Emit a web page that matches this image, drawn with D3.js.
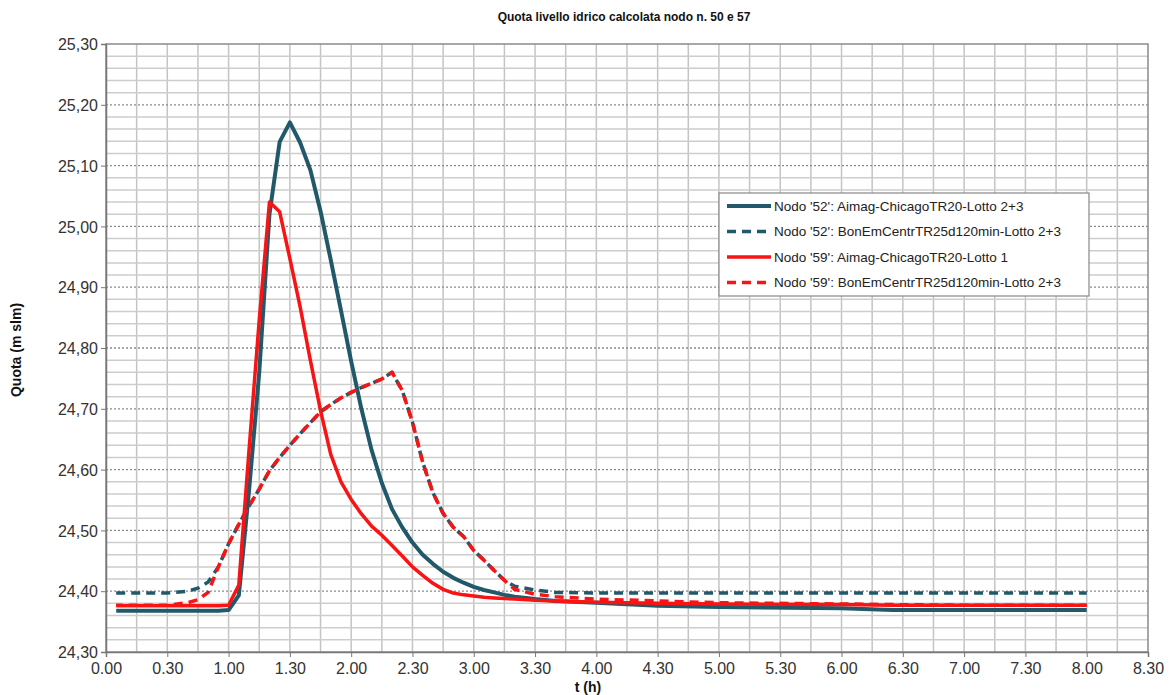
<!DOCTYPE html>
<html>
<head>
<meta charset="utf-8">
<script src="https://cdn.jsdelivr.net/npm/d3@7"></script>
<style>
  body { margin: 0; background: #fff; }
  svg { display: block; font-family: "Liberation Sans", Arial, sans-serif; }
  .tick text { fill: #333; font-size: 16px; }
</style>
</head>
<body>
<svg id="chart" width="1170" height="695"></svg>
<script>
// time in minutes from start
var times = [5, 30, 40, 45, 50, 55, 60, 65, 70, 75, 80, 85, 90, 95, 100, 105, 110, 115, 120, 125,
    130, 135, 140, 145, 150, 155, 160, 165, 170, 175, 180, 185, 190, 195, 200, 210, 220, 240,
    270, 300, 360, 385, 420, 480];

var nodo52Chicago = [24.368, 24.368, 24.368, 24.368, 24.368, 24.368, 24.369, 24.393, 24.565, 24.760,
    25.020, 25.139, 25.171, 25.138, 25.093, 25.025, 24.945, 24.862, 24.778, 24.700,
    24.632, 24.578, 24.535, 24.505, 24.480, 24.460, 24.445, 24.432, 24.422, 24.414,
    24.407, 24.402, 24.398, 24.394, 24.391, 24.387, 24.384, 24.381,
    24.376, 24.374, 24.372, 24.369, 24.369, 24.369];

var nodo52BonEm = [24.397, 24.397, 24.400, 24.405, 24.415, 24.440, 24.478, 24.510, 24.540, 24.568,
    24.598, 24.620, 24.640, 24.659, 24.677, 24.695, 24.707, 24.718, 24.727, 24.735,
    24.742, 24.749, 24.760, 24.730, 24.678, 24.612, 24.562, 24.528, 24.505, 24.490,
    24.467, 24.451, 24.434, 24.418, 24.408, 24.402, 24.398, 24.397,
    24.397, 24.397, 24.397, 24.397, 24.397, 24.397];

var nodo59Chicago = [24.376, 24.376, 24.376, 24.376, 24.376, 24.376, 24.377, 24.410, 24.632, 24.846,
    25.040, 25.024, 24.947, 24.868, 24.780, 24.697, 24.625, 24.580, 24.551, 24.527,
    24.507, 24.492, 24.475, 24.458, 24.440, 24.426, 24.413, 24.403, 24.397, 24.394,
    24.392, 24.390, 24.389, 24.388, 24.387, 24.385, 24.384, 24.382,
    24.380, 24.379, 24.378, 24.377, 24.377, 24.377];

var nodo59BonEm = [24.377, 24.377, 24.381, 24.386, 24.398, 24.440, 24.478, 24.510, 24.540, 24.568,
    24.598, 24.620, 24.640, 24.659, 24.677, 24.695, 24.707, 24.718, 24.727, 24.735,
    24.742, 24.749, 24.760, 24.730, 24.678, 24.612, 24.562, 24.528, 24.505, 24.490,
    24.467, 24.451, 24.434, 24.418, 24.403, 24.395, 24.391, 24.387,
    24.384, 24.381, 24.379, 24.378, 24.377, 24.377];

var seriesNames = [
    "Nodo '52': Aimag-ChicagoTR20-Lotto 2+3",
    "Nodo '52': BonEmCentrTR25d120min-Lotto 2+3",
    "Nodo '59': Aimag-ChicagoTR20-Lotto 1",
    "Nodo '59': BonEmCentrTR25d120min-Lotto 2+3"
];

var xTicks = d3.range(0, 511, 30);
var yTicks = d3.range(0, 11).map(function(i) { return +(24.3 + i * 0.1).toFixed(2); });

var teal = "#21596a", red = "#f81414";
var styles = [
    {color: teal, width: 4, dash: null},
    {color: teal, width: 3.5, dash: "9,6"},
    {color: red, width: 3.5, dash: null},
    {color: red, width: 3.5, dash: "9,6"}
];

var plotL = 106, plotR = 1148, plotT = 44, plotB = 652;

var x = d3.scaleLinear().domain([0, 510]).range([plotL, plotR]);
var y = d3.scaleLinear().domain([24.3, 25.3]).range([plotB, plotT]);

var svg = d3.select("#chart");

// grid
var grid = svg.append("g");
grid.selectAll(".vgrid")
    .data(d3.range(15, 510, 15))
    .enter().append("line")
    .attr("x1", function(d) { return x(d); })
    .attr("x2", function(d) { return x(d); })
    .attr("y1", plotT).attr("y2", plotB)
    .attr("stroke", "#c4c4c4").attr("stroke-width", 1.5);

var minor = d3.range(1, 50).filter(function(i) { return i % 5 != 0; });
grid.selectAll(".hminor")
    .data(minor)
    .enter().append("line")
    .attr("x1", plotL).attr("x2", plotR)
    .attr("y1", function(i) { return y(24.3 + i * 0.02); })
    .attr("y2", function(i) { return y(24.3 + i * 0.02); })
    .attr("stroke", "#cdcdcd").attr("stroke-width", 1.5);

grid.selectAll(".hmajor")
    .data(yTicks.slice(1, -1))
    .enter().append("line")
    .attr("x1", plotL).attr("x2", plotR)
    .attr("y1", function(d) { return y(d); })
    .attr("y2", function(d) { return y(d); })
    .attr("stroke", "#8a8a8a").attr("stroke-width", 1.3)
    .attr("stroke-dasharray", "2,2");

// plot border
svg.append("rect")
    .attr("x", plotL).attr("y", plotT)
    .attr("width", plotR - plotL).attr("height", plotB - plotT)
    .attr("fill", "none").attr("stroke", "#8a8a8a").attr("stroke-width", 1.5);

// axes
var fmtX = function(m) { return Math.floor(m / 60) + "." + d3.format("02")(m % 60); };
var fmtY = function(v) { return d3.format(".2f")(v).replace(".", ","); };

svg.append("g")
    .attr("transform", "translate(0," + plotB + ")")
    .call(d3.axisBottom(x).tickValues(xTicks).tickFormat(fmtX).tickSize(5).tickPadding(6))
    .call(function(g) { g.select(".domain").attr("stroke", "#777").attr("stroke-width", 1.5); })
    .call(function(g) { g.selectAll(".tick line").attr("stroke", "#777"); });

svg.append("g")
    .attr("transform", "translate(" + plotL + ",0)")
    .call(d3.axisLeft(y).tickValues(yTicks).tickFormat(fmtY).tickSize(5).tickPadding(3))
    .call(function(g) { g.select(".domain").attr("stroke", "#777").attr("stroke-width", 1.5); })
    .call(function(g) { g.selectAll(".tick line").attr("stroke", "#777"); })
    .selectAll("text").attr("dy", "0.36em");

// series
var allSeries = [nodo52Chicago, nodo52BonEm, nodo59Chicago, nodo59BonEm];
var line = d3.line()
    .x(function(d, i) { return x(times[i]); })
    .y(function(d) { return y(d); });

var paths = allSeries.map(function(vals, k) {
    return svg.append("path")
        .datum(vals)
        .attr("fill", "none")
        .attr("stroke", styles[k].color)
        .attr("stroke-width", styles[k].width)
        .attr("stroke-dasharray", styles[k].dash)
        .attr("stroke-linejoin", "round")
        .attr("d", line);
});

// shift the red dashes half a period where the two dashed curves overlap
var merge = times.indexOf(60);
var partLen = function(vals) {
    var p = svg.append("path").attr("d", line(vals.slice(0, merge + 1)));
    var len = p.node().getTotalLength();
    p.remove();
    return len;
};
paths[3].attr("stroke-dashoffset", -(partLen(nodo52BonEm) + 7.5 - partLen(nodo59BonEm)));

// titles
svg.append("text")
    .attr("x", 624).attr("y", 21)
    .attr("text-anchor", "middle")
    .attr("font-size", 12).attr("font-weight", "bold").attr("fill", "#111")
    .text("Quota livello idrico calcolata nodo n. 50 e 57");

svg.append("text")
    .attr("transform", "translate(21,350) rotate(-90)")
    .attr("text-anchor", "middle")
    .attr("font-size", 14).attr("font-weight", "bold").attr("fill", "#111")
    .text("Quota (m slm)");

svg.append("text")
    .attr("x", 588).attr("y", 692)
    .attr("text-anchor", "middle")
    .attr("font-size", 14).attr("font-weight", "bold").attr("fill", "#111")
    .text("t (h)");

// legend
var legend = svg.append("g").attr("transform", "translate(719,193)");
legend.append("rect")
    .attr("width", 370).attr("height", 103)
    .attr("fill", "#fff").attr("stroke", "#888").attr("stroke-width", 1.2);

var rows = legend.selectAll(".row")
    .data(seriesNames)
    .enter().append("g")
    .attr("transform", function(d, i) { return "translate(0," + (13 + i * 25.5) + ")"; });

rows.append("line")
    .attr("x1", 8).attr("x2", 52)
    .attr("stroke", function(d, i) { return styles[i].color; })
    .attr("stroke-width", function(d, i) { return styles[i].width; })
    .attr("stroke-dasharray", function(d, i) { return styles[i].dash ? "9,6" : null; });

rows.append("text")
    .attr("x", 55).attr("dy", "0.36em")
    .attr("font-size", 13.5).attr("fill", "#222")
    .text(function(d) { return d; });
</script>
</body>
</html>
